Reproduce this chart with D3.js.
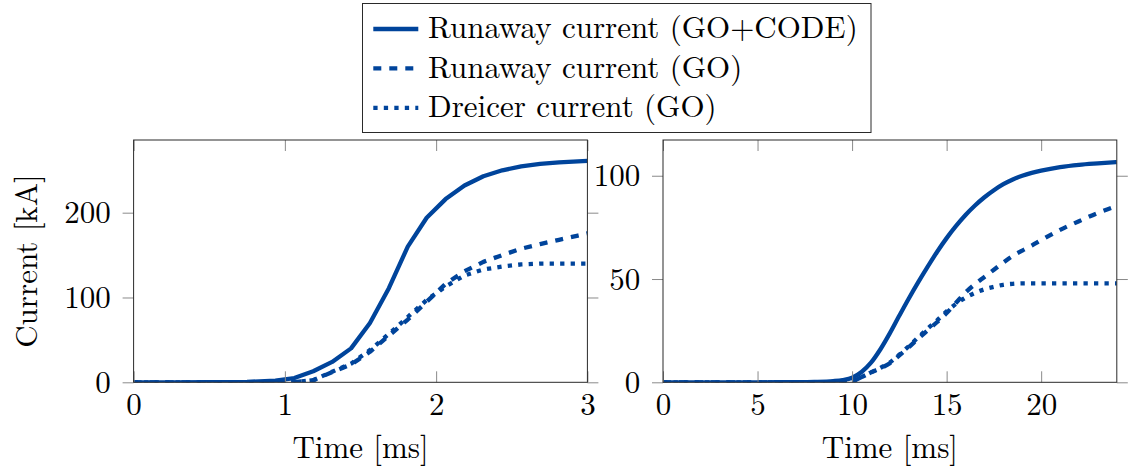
<!DOCTYPE html>
<html>
<head>
<meta charset="utf-8">
<script src="https://cdn.jsdelivr.net/npm/d3@7"></script>
<style>
  html, body { margin: 0; padding: 0; background: #fff; }
  svg { display: block; }
</style>
</head>
<body>
<svg id="chart" width="1129" height="466"></svg>
<script>
// ---- Panel A: first 3 ms (time in ms, currents in kA) ----
const timeA = [0, 0.25, 0.5, 0.75, 0.9375, 1.0625, 1.1875, 1.3125, 1.4375, 1.5625, 1.6875,
               1.8125, 1.9375, 2.0625, 2.1875, 2.3125, 2.4375, 2.5625, 2.6875, 2.8125, 2.9375, 3.0];
const runawayCodeA = [0, 0, 0.1, 0.5, 2, 5, 13, 24, 40, 70, 111,
                      160, 194, 216, 232, 243, 250, 254.5, 257.5, 259.3, 260.5, 261];
const runawayGoA   = [0, 0, 0, 0, 0, 0.3, 2.5, 12, 21, 36, 55,
                      74, 95, 116, 131, 142, 150, 157.5, 163, 168, 173, 175.5];
const dreicerGoA   = [0, 0, 0, 0, 0, 0.3, 2.5, 12.5, 22, 38, 57,
                      77, 97, 113, 126, 133, 136.5, 139, 140, 140, 140, 140];

// ---- Panel B: first 24 ms ----
const timeB = [0, 1, 2, 3, 4, 5, 6, 7, 8, 9,
               9.5, 10, 10.5, 11, 11.5, 12, 12.5, 13, 13.5, 14, 14.5,
               15, 15.5, 16, 16.5, 17, 17.5, 18, 18.5, 19, 19.5, 20,
               21, 22, 23, 24];
const runawayCodeB = [0, 0, 0, 0, 0, 0, 0.02, 0.06, 0.2, 0.6,
                      1.1, 2.2, 5, 9.5, 16, 23.8, 32.3, 40.6, 48.5, 56, 63.2,
                      69.8, 75.7, 81, 85.6, 89.6, 93, 95.9, 98.2, 100, 101.4, 102.5,
                      104.2, 105.3, 106, 106.6];
const runawayGoB   = [0, 0, 0, 0, 0, 0, 0, 0, 0, 0,
                      0, 0.5, 2.5, 4.8, 6.8, 9.2, 13, 17, 21.2, 25.2, 29.2,
                      33.5, 38.5, 43.5, 47.5, 51, 54.5, 58, 61.2, 63.8, 66.2, 68.8,
                      73.8, 78, 82, 85.3];
const dreicerGoB   = [0, 0, 0, 0, 0, 0, 0, 0, 0, 0,
                      0, 0.5, 2.5, 4.8, 7, 9.6, 13.4, 17.5, 21.8, 26, 30,
                      34.3, 38, 41, 43.3, 45, 46.2, 47.2, 47.7, 47.9, 47.9, 47.9,
                      47.9, 47.9, 47.9, 47.9];

// Axis limits and tick values
const xMaxA = 3, yMaxA = 285.7;
const xMaxB = 24, yMaxB = 117.3;
const xTicksA = [0, 1, 2, 3];
const yTicksA = [0, 100, 200];
const xTicksB = [0, 5, 10, 15, 20];
const yTicksB = [0, 50, 100];

const legendLabels = ["Runaway current (GO+CODE)", "Runaway current (GO)", "Dreicer current (GO)"];
const xLabel = "Time [ms]";
const yLabel = "Current [kA]";

// ---- Styling ----
const BLUE = "#00449b";
const FONT = '"Latin Modern Roman"';
const FONT_SIZE = "31px";
const LINE_W = 4.3;
const dashStyles = [null, "8 8", "4.3 6.2"];
const TICK_LEN = 11;

const svg = d3.select("#chart");
const setFont = sel => sel.style("font-family", FONT).style("font-size", FONT_SIZE).attr("fill", "#000");

const plotTop = 140, plotBottom = 382.3, plotW = 453.8;

function panel(id, left, xMax, yMax, xTicks, yTicks, time, seriesList, curve, withYLabel) {
  const x = d3.scaleLinear().domain([0, xMax]).range([left, left + plotW]);
  const y = d3.scaleLinear().domain([0, yMax]).range([plotBottom, plotTop]);
  const g = svg.append("g");

  // clip region for the curves
  svg.append("clipPath").attr("id", id)
    .append("rect")
    .attr("x", x(0)).attr("y", y(yMax))
    .attr("width", x(xMax) - x(0)).attr("height", y(0) - y(yMax));

  // curves
  const line = d3.line()
    .x(d => x(d[0]))
    .y(d => y(d[1]))
    .curve(curve);
  seriesList.forEach((vals, i) => {
    g.append("path")
      .attr("clip-path", `url(#${id})`)
      .attr("d", line(time.map((t, k) => [t, vals[k]])))
      .attr("fill", "none")
      .attr("stroke", BLUE)
      .attr("stroke-width", LINE_W)
      .attr("stroke-linejoin", "round")
      .attr("stroke-linecap", "butt")
      .attr("stroke-dasharray", dashStyles[i]);
  });

  // axes: x ticks point inward, y ticks point outward
  const tickStyle = sel => {
    sel.attr("font-family", null).attr("font-size", null);
    sel.select(".domain").remove();
    sel.selectAll(".tick line").attr("stroke", "#8a8a8a").attr("stroke-width", 1);
    sel.selectAll(".tick text").call(setFont);
  };

  g.append("g").attr("transform", `translate(0,${y(0)})`)
    .call(d3.axisBottom(x).tickValues(xTicks).tickSizeInner(-TICK_LEN).tickSizeOuter(0)
      .tickFormat(d3.format("d")))
    .call(tickStyle)
    .call(s => s.selectAll(".tick text").attr("y", 32.3).attr("dy", null));

  g.append("g").attr("transform", `translate(0,${y(yMax)})`)
    .call(d3.axisTop(x).tickValues(xTicks).tickSizeInner(-TICK_LEN).tickSizeOuter(0).tickFormat(""))
    .call(tickStyle);

  g.append("g").attr("transform", `translate(${x(0)},0)`)
    .call(d3.axisLeft(y).tickValues(yTicks).tickSizeInner(TICK_LEN).tickSizeOuter(0)
      .tickPadding(11.8).tickFormat(d3.format("d")))
    .call(tickStyle)
    .call(s => s.selectAll(".tick text").attr("dy", "0.33em"));

  g.append("g").attr("transform", `translate(${x(xMax)},0)`)
    .call(d3.axisRight(y).tickValues(yTicks).tickSizeInner(TICK_LEN).tickSizeOuter(0).tickFormat(""))
    .call(tickStyle);

  // frame
  g.append("rect")
    .attr("x", x(0)).attr("y", y(yMax))
    .attr("width", x(xMax) - x(0)).attr("height", y(0) - y(yMax))
    .attr("fill", "none").attr("stroke", "#2a2a2a").attr("stroke-width", 1);

  // x axis title
  g.append("text")
    .attr("x", (x(0) + x(xMax)) / 2).attr("y", 458)
    .attr("text-anchor", "middle")
    .call(setFont)
    .text(xLabel);

  if (withYLabel) {
    const cy = (plotTop + plotBottom) / 2;
    g.append("text")
      .attr("transform", `translate(36.5,${cy}) rotate(-90)`)
      .attr("text-anchor", "middle")
      .call(setFont)
      .text(yLabel);
  }
}

panel("clipA", 133.6, xMaxA, yMaxA, xTicksA, yTicksA, timeA,
      [runawayCodeA, runawayGoA, dreicerGoA], d3.curveLinear, true);
panel("clipB", 663, xMaxB, yMaxB, xTicksB, yTicksB, timeB,
      [runawayCodeB, runawayGoB, dreicerGoB], d3.curveMonotoneX, false);

// ---- Legend ----
const legend = svg.append("g");
legend.append("rect")
  .attr("x", 362.5).attr("y", 3.5).attr("width", 508.5).attr("height", 129)
  .attr("fill", "#fff").attr("stroke", "#2a2a2a").attr("stroke-width", 1);

legendLabels.forEach((label, i) => {
  const rowY = 29 + i * 39.4;
  legend.append("line")
    .attr("x1", 373.3).attr("x2", 418.3)
    .attr("y1", rowY).attr("y2", rowY)
    .attr("stroke", BLUE).attr("stroke-width", LINE_W)
    .attr("stroke-dasharray", dashStyles[i]);
  legend.append("text")
    .attr("x", 428).attr("y", rowY + 9.4)
    .call(setFont)
    .text(label);
});
</script>
</body>
</html>
